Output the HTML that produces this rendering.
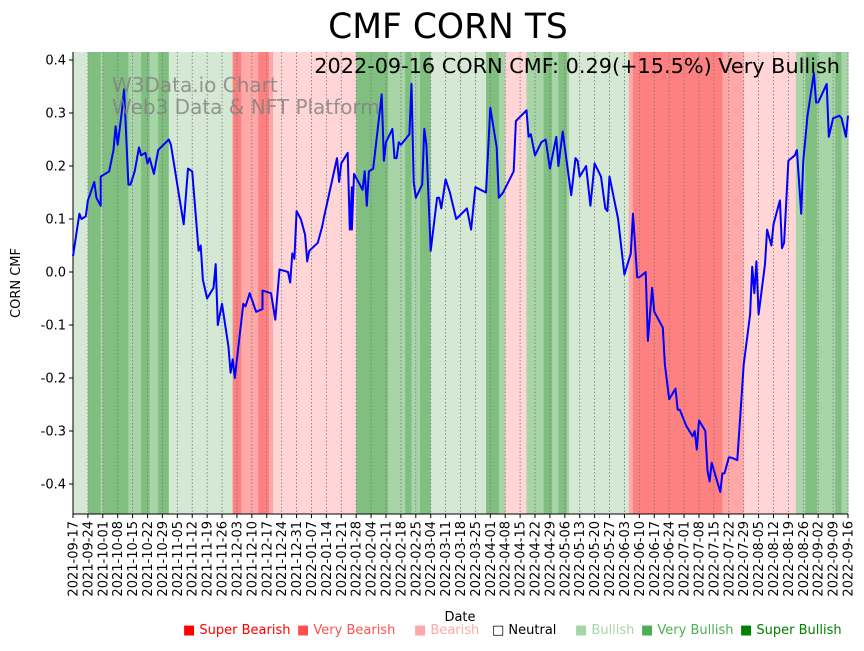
<!DOCTYPE html>
<html><head><meta charset="utf-8"><style>
body{margin:0;background:#fff;font-family:"Liberation Sans","DejaVu Sans",sans-serif}
svg text{font-family:"DejaVu Sans","Liberation Sans",sans-serif}
</style></head><body>
<svg id="chart" width="864" height="646" xmlns="http://www.w3.org/2000/svg"></svg>
<script>
const days=[0,3,4,6,7,10,11,13,13,17,19,20,21,23,24,26,27,29,31,32,34,35,36,38,40,45,46,48,49,52,54,56,59,60,61,63,66,67,68,70,73,74,75,76,80,81,83,86,89,89,93,95,97,101,102,103,104,105,107,109,110,111,115,117,118,124,125,126,129,130,131,131,132,136,137,138,139,141,145,146,147,150,151,152,153,154,158,159,160,161,164,165,166,168,171,172,173,175,177,180,185,187,189,194,196,199,200,202,207,208,213,214,215,217,220,222,224,227,228,230,234,236,237,238,241,243,245,248,250,251,252,256,259,262,263,265,266,269,270,272,273,277,278,280,283,284,285,288,291,292,293,294,297,298,299,300,304,305,306,308,309,312,315,318,319,320,321,322,325,326,328,329,332,333,334,336,339,340,342,343,345,348,349,350,354,355,357,360,361,363,364];
const cmf=[0.03,0.11,0.10,0.105,0.135,0.17,0.14,0.125,0.18,0.19,0.23,0.275,0.24,0.305,0.345,0.165,0.165,0.19,0.235,0.22,0.225,0.205,0.215,0.185,0.23,0.25,0.24,0.19,0.165,0.09,0.195,0.19,0.04,0.05,-0.015,-0.05,-0.03,0.015,-0.1,-0.06,-0.14,-0.19,-0.165,-0.2,-0.06,-0.065,-0.04,-0.075,-0.07,-0.035,-0.04,-0.09,0.005,0.0,-0.02,0.035,0.025,0.115,0.1,0.07,0.02,0.04,0.055,0.085,0.105,0.215,0.17,0.205,0.225,0.08,0.16,0.08,0.185,0.155,0.19,0.125,0.19,0.195,0.335,0.21,0.245,0.27,0.215,0.215,0.245,0.24,0.26,0.355,0.17,0.14,0.165,0.27,0.24,0.04,0.14,0.14,0.12,0.175,0.15,0.10,0.12,0.08,0.16,0.15,0.31,0.235,0.14,0.15,0.19,0.285,0.305,0.255,0.26,0.22,0.245,0.25,0.195,0.255,0.2,0.265,0.145,0.215,0.21,0.18,0.2,0.125,0.205,0.18,0.12,0.115,0.18,0.1,-0.005,0.035,0.11,-0.01,-0.01,0.0,-0.13,-0.03,-0.075,-0.105,-0.175,-0.24,-0.22,-0.26,-0.26,-0.29,-0.31,-0.30,-0.335,-0.28,-0.30,-0.375,-0.395,-0.36,-0.415,-0.38,-0.38,-0.35,-0.35,-0.355,-0.175,-0.08,0.01,-0.04,0.02,-0.08,0.015,0.08,0.05,0.09,0.135,0.045,0.055,0.21,0.22,0.23,0.11,0.21,0.295,0.375,0.32,0.32,0.355,0.255,0.29,0.295,0.29,0.255,0.295];
const bandStart=[0,7,13,14,26,32,36,40,45,75,79,87,92,94,133,148,156,159,163,168,194,200,203,213,221,225,228,232,233,261,263,305,315,339.5,344,349.5,358,361];
const bandEnd=[7,13,14,26,32,36,40,45,75,79,87,92,94,133,148,156,159,163,168,194,200,203,213,221,225,228,232,233,261,263,305,315,339.5,344,349.5,358,361,364];
const bandLevel=[1,2,1.5,2,1.5,2,1.5,2,1,-2,-1,-2,-1,-0.5,2,1.5,2,1.5,2,1,2,1.5,-0.5,1.5,2,1.5,2,1.5,1,-1,-2,-1,-0.5,1.5,2,1.5,2,1.5];
const yTicks=[0.4,0.3,0.2,0.1,0.0,-0.1,-0.2,-0.3,-0.4];
const startDate=new Date(Date.UTC(2021,8,17));
const X0=73,X1=848,Y0=52,Y1=514;
const xs=d=>X0+d*(X1-X0)/364;
const ys=v=>272-v*530;
const svg=document.getElementById('chart');
const NS='http://www.w3.org/2000/svg';
function mk(t,a,p){const e=document.createElementNS(NS,t);for(const k in a)e.setAttribute(k,a[k]);(p||svg).appendChild(e);return e;}
const colors={'-2':'#ff8080','-1':'#ffa8a8','-0.5':'#ffd5d5','1':'#d5e8d4','1.5':'#a8d5a8','2':'#80bf80'};
bandStart.forEach((s,i)=>{
 const c=colors[String(bandLevel[i])];
 const r=mk('rect',{x:xs(s),y:Y0,width:xs(bandEnd[i])-xs(s)+0.5,height:Y1-Y0,fill:c});
 
 
});
for(let d=0;d<=364;d+=7){
 const x=xs(d);
 mk('line',{x1:x,x2:x,y1:Y0,y2:Y1,stroke:'#777','stroke-width':0.8,'stroke-dasharray':'1.5,2'});
 mk('line',{x1:x,x2:x,y1:Y1,y2:Y1+4,stroke:'#000','stroke-width':1});
 const dt=new Date(startDate.getTime()+d*86400000);
 const lbl=dt.toISOString().slice(0,10);
 const t=mk('text',{x:0,y:0,'font-size':13,'text-anchor':'end',transform:`translate(${x+4.5},${Y1+7}) rotate(-90)`});
 t.textContent=lbl;
 
 
}
yTicks.forEach(v=>{
 const y=ys(v);
 mk('line',{x1:X0-4,x2:X0,y1:y,y2:y,stroke:'#000'});
 const t=mk('text',{x:X0-7,y:y+4.5,'font-size':13,'text-anchor':'end'});
 t.textContent=v.toFixed(1);
 
 
});
mk('line',{x1:X0,x2:X0,y1:Y0,y2:Y1,stroke:'#000','stroke-width':1});
mk('line',{x1:X0,x2:X1,y1:Y1,y2:Y1,stroke:'#000','stroke-width':1});
const pts=days.map((d,i)=>xs(d).toFixed(1)+','+ys(cmf[i]).toFixed(1)).join(' ');
const pl=mk('polyline',{points:pts,fill:'none',stroke:'#0000ff','stroke-width':2,'stroke-linejoin':'round'});


function txt(s,a,name){const t=mk('text',a);t.textContent=s;return t;}
txt('W3Data.io Chart',{x:112,y:92,'font-size':20,fill:'#808080','fill-opacity':0.8},'watermark-line1');
txt('Web3 Data & NFT Platform',{x:112,y:114,'font-size':20,fill:'#808080','fill-opacity':0.8},'watermark-line2');
txt('2022-09-16 CORN CMF: 0.29(+15.5%) Very Bullish',{x:840,y:73,'font-size':20.8,'text-anchor':'end',fill:'#000'},'latest-annotation');
txt('CMF CORN TS',{x:448,y:38,'font-size':34.5,'text-anchor':'middle',fill:'#000'},'chart-title');
txt('CORN CMF',{x:0,y:0,'font-size':13,'text-anchor':'middle',transform:'translate(20,283) rotate(-90)'},'y-axis-title');
txt('Date',{x:460,y:621,'font-size':13,'text-anchor':'middle'},'x-axis-title');
const legLabels=['Super Bearish','Very Bearish','Bearish','Neutral','Bullish','Very Bullish','Super Bullish'];
const legColors=['#ff0000','#ff5050','#ffa8a8','#000000','#a8d5a8','#4caf50','#008000'];
const legX=[183,297,414,492,575,641,740];
legLabels.forEach((l,i)=>{
 const t=mk('text',{x:legX[i],y:634,'font-size':13,fill:legColors[i]});
 t.textContent=(i===3?'□ ':'■ ')+l;
 
 
});
</script>
</body></html>
